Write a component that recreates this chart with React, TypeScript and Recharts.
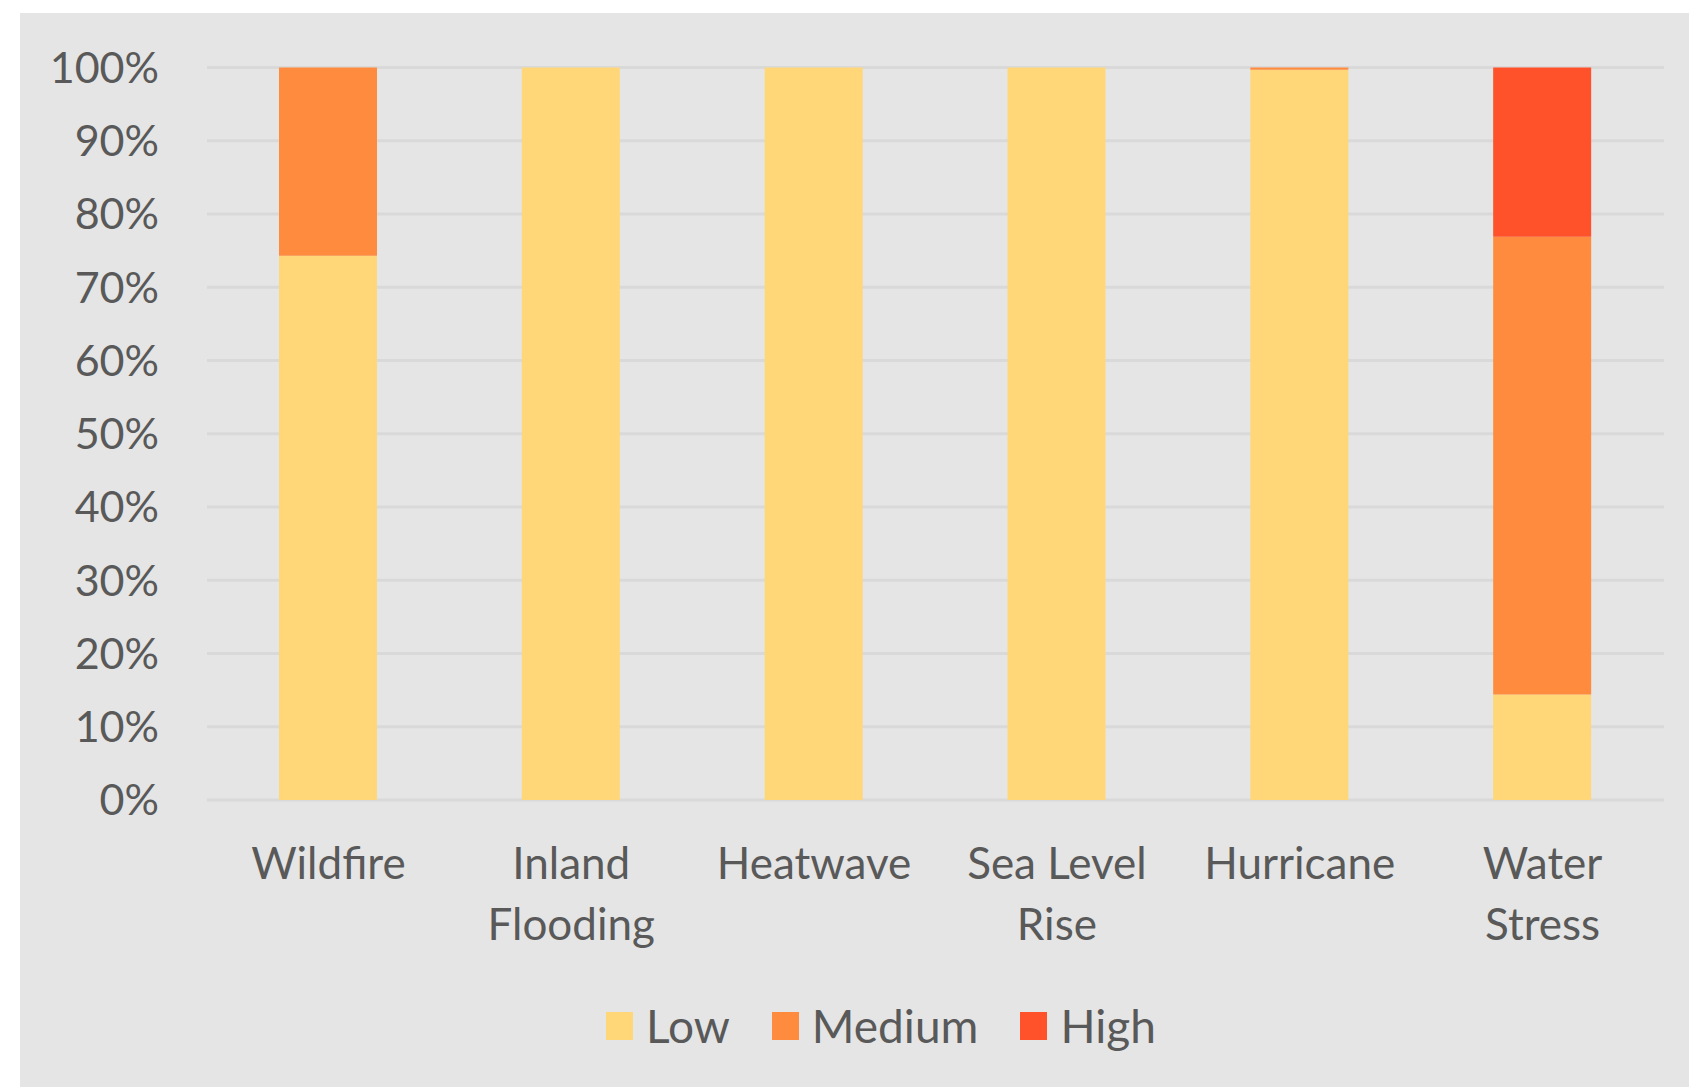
import React from "react";
import { BarChart, Bar, XAxis, YAxis, CartesianGrid, Legend } from "recharts";

// Share of assets by risk level for each climate hazard (percent)
const categories = ["Wildfire", "Inland Flooding", "Heatwave", "Sea Level Rise", "Hurricane", "Water Stress"];
const seriesNames = ["Low", "Medium", "High"];
const lowValues = [74.3, 100, 100, 100, 99.7, 14.4];
const mediumValues = [25.7, 0, 0, 0, 0.3, 62.5];
const highValues = [0, 0, 0, 0, 0, 23.1];
const yTicks = [0, 10, 20, 30, 40, 50, 60, 70, 80, 90, 100];

const colors = {
  low: "#FFD778",
  medium: "#FF8C3E",
  high: "#FF512A",
  text: "#595959",
  grid: "#D9D9D9",
  panel: "#E5E5E5",
};

const FONT = "Lato, 'Noto Sans', sans-serif";

const data = categories.map((name, i) => ({
  name,
  Low: lowValues[i],
  Medium: mediumValues[i],
  High: highValues[i],
}));

// long names wrap onto two lines at the last space
const splitLabel = (label: string) => {
  if (label.length <= 10) return [label];
  const cut = label.lastIndexOf(" ");
  return [label.slice(0, cut), label.slice(cut + 1)];
};

const CategoryTick = (props: any) => {
  const { x, y, payload } = props;
  const lines = splitLabel(String(payload.value));
  return (
    <text x={x} y={y} textAnchor="middle" fill={colors.text} fontSize={44} fontFamily={FONT}>
      {lines.map((line, i) => (
        <tspan key={line} x={x} dy={i === 0 ? 79 : 61}>
          {line}
        </tspan>
      ))}
    </text>
  );
};

const LegendContent = (props: any) => {
  const payload = [...(props.payload || [])].sort(
    (a: any, b: any) => seriesNames.indexOf(a.value) - seriesNames.indexOf(b.value)
  );
  return (
    <div style={{ display: "flex", alignItems: "center", fontFamily: FONT, fontSize: 46, color: colors.text }}>
      {payload.map((entry: any) => (
        <div key={entry.value} style={{ display: "flex", alignItems: "center", marginRight: 42 }}>
          <span style={{ display: "inline-block", width: 27, height: 28, background: entry.color, marginRight: 13 }} />
          <span style={{ lineHeight: "48px" }}>{entry.value}</span>
        </div>
      ))}
    </div>
  );
};

const App = () => {
  return (
    <div style={{ position: "relative", width: 1689, height: 1087, background: "#FFFFFF", overflow: "hidden" }}>
      <style>{"body{margin:0}"}</style>
      <div style={{ position: "absolute", left: 20, top: 13, width: 1669, height: 1074, background: colors.panel }} />
      <div style={{ position: "absolute", left: 0, top: 0 }}>
        <BarChart
          width={1689}
          height={1087}
          data={data}
          margin={{ top: 67.5, right: 25, bottom: 286, left: 0 }}
        >
          <CartesianGrid vertical={false} stroke={colors.grid} strokeWidth={3} />
          <XAxis
            dataKey="name"
            axisLine={false}
            tickLine={false}
            tickSize={0}
            tickMargin={0}
            height={1}
            interval={0}
            tick={<CategoryTick />}
          />
          <YAxis
            width={207}
            domain={[0, 100]}
            ticks={yTicks}
            axisLine={false}
            tickLine={false}
            tickMargin={42}
            tickFormatter={(v: number) => `${v}%`}
            tick={{ fill: colors.text, fontSize: 43, fontFamily: FONT }}
          />
          <Legend
            verticalAlign="middle"
            layout="horizontal"
            content={<LegendContent />}
            wrapperStyle={{ top: 1002, left: 606, width: "auto" }}
          />
          <Bar dataKey="Low" stackId="risk" fill={colors.low} barSize={98} isAnimationActive={false} />
          <Bar dataKey="Medium" stackId="risk" fill={colors.medium} barSize={98} isAnimationActive={false} />
          <Bar dataKey="High" stackId="risk" fill={colors.high} barSize={98} isAnimationActive={false} />
        </BarChart>
      </div>
    </div>
  );
};

export default App;
